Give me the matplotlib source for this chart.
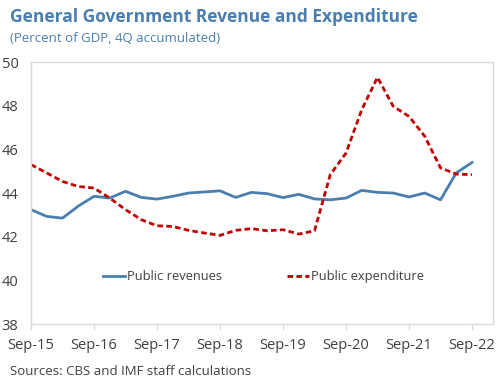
import matplotlib.pyplot as plt
import numpy as np

plt.rcParams['font.family'] = ['Open Sans', 'DejaVu Sans']

# quarterly, Sep-15 .. Sep-22
quarters = ['Sep-15', 'Dec-15', 'Mar-16', 'Jun-16', 'Sep-16', 'Dec-16', 'Mar-17', 'Jun-17',
            'Sep-17', 'Dec-17', 'Mar-18', 'Jun-18', 'Sep-18', 'Dec-18', 'Mar-19', 'Jun-19',
            'Sep-19', 'Dec-19', 'Mar-20', 'Jun-20', 'Sep-20', 'Dec-20', 'Mar-21', 'Jun-21',
            'Sep-21', 'Dec-21', 'Mar-22', 'Jun-22', 'Sep-22']
revenues = [43.24, 42.93, 42.85, 43.4, 43.85, 43.77, 44.08, 43.8, 43.72, 43.85,
            44.0, 44.05, 44.1, 43.8, 44.03, 43.97, 43.79, 43.94, 43.73, 43.69,
            43.77, 44.12, 44.03, 44.0, 43.82, 44.0, 43.69, 44.92, 45.4]
expenditure = [45.3, 44.92, 44.53, 44.3, 44.23, 43.77, 43.24, 42.78, 42.5, 42.47,
               42.29, 42.17, 42.06, 42.29, 42.37, 42.27, 42.32, 42.12, 42.27, 44.84,
               45.83, 47.82, 49.3, 47.97, 47.51, 46.6, 45.15, 44.87, 44.84]
year_labels = ['Sep-15', 'Sep-16', 'Sep-17', 'Sep-18', 'Sep-19', 'Sep-20', 'Sep-21', 'Sep-22']

blue = '#4A7EAE'
red = '#C00000'
txt = '#404040'
title_blue = '#4A7EAE'

fig = plt.figure(figsize=(4.96, 3.83), dpi=100)
ax = fig.add_axes([0.0625, 0.154, 0.932, 0.684])

x = np.arange(len(quarters))
ax.plot(x, revenues, color=blue, lw=2.0, label='Public revenues')
ax.plot(x, expenditure, color=red, lw=2.0, ls=(0, (2, 1.2)), label='Public expenditure')

ax.set_xlim(0, 29.35)
ax.set_ylim(38, 50)
ax.set_yticks(range(38, 51, 2))
ax.set_xticks(x[::4])
ax.set_xticklabels(year_labels)

for s in ax.spines.values():
    s.set_color('#D9D9D9')
    s.set_linewidth(1.0)
ax.tick_params(axis='y', length=0, labelsize=10.5, labelcolor=txt, pad=9)
ax.tick_params(axis='x', length=4, color='#D9D9D9', labelsize=10.5, labelcolor=txt, pad=6)

ax.legend(loc='center', bbox_to_anchor=(0.503, 0.18), ncol=2, frameon=False,
          fontsize=9.3, handlelength=1.7, handletextpad=0.15, columnspacing=5.0,
          labelcolor=txt)

fig.text(0.02, 0.956, 'General Government Revenue and Expenditure', fontsize=12.5,
         fontweight='bold', color=title_blue, va='center', ha='left')
fig.text(0.02, 0.9, '(Percent of GDP, 4Q accumulated)', fontsize=9.5,
         color=title_blue, va='center', ha='left')
fig.text(0.02, 0.031, 'Sources: CBS and IMF staff calculations', fontsize=9.5,
         color=txt, va='center', ha='left')

fig.savefig('out.png', dpi=100)
